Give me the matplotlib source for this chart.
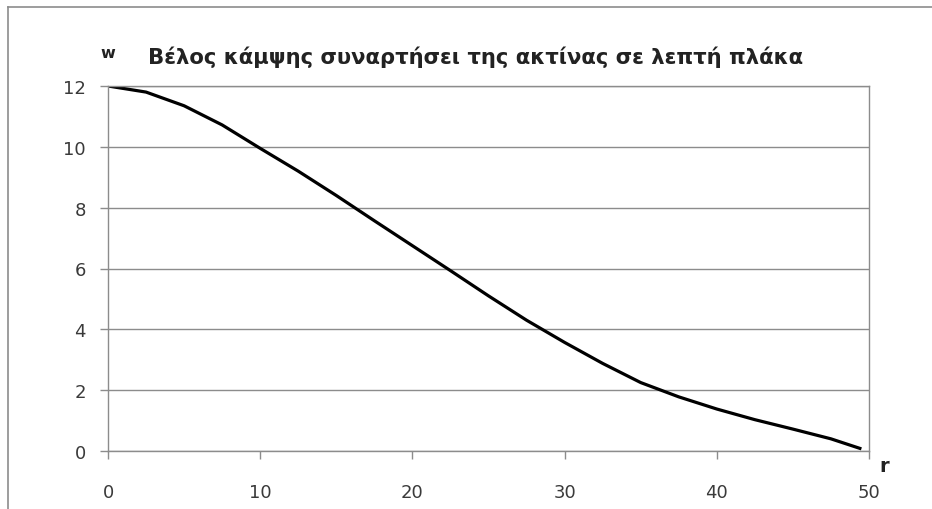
import matplotlib.pyplot as plt
from matplotlib.lines import Line2D

# plate deflection w against radius r
r = [0, 2.5, 5, 7.5, 10, 12.5, 15, 17.5, 20, 22.5, 25, 27.5, 30, 32.5, 35, 37.5, 40, 42.5, 45, 47.5, 49.5]
w = [12.0, 11.8, 11.35, 10.72, 9.95, 9.2, 8.4, 7.57, 6.75, 5.93, 5.1, 4.3, 3.57, 2.88, 2.25, 1.78, 1.38, 1.03, 0.72, 0.4, 0.07]

xticks = [0, 10, 20, 30, 40, 50]
yticks = [0, 2, 4, 6, 8, 10, 12]

title = "Βέλος κάμψης συναρτήσει της ακτίνας σε λεπτή πλάκα"

grey = "#8c8c8c"
plt.rcParams['font.family'] = ['DejaVu Sans']

fig = plt.figure(figsize=(9.32, 5.10), dpi=100)
ax = fig.add_axes([108 / 932, 1 - 452 / 510, (869 - 108) / 932, (452 - 87) / 510])

ax.plot(r, w, color="black", lw=2.3, solid_capstyle="butt", solid_joinstyle="round")

ax.set_xlim(0, 50)
ax.set_ylim(0, 12)
ax.set_xticks(xticks)
ax.set_yticks(yticks)
ax.yaxis.grid(True, color=grey, lw=1.0)
ax.set_axisbelow(True)
for s in ax.spines.values():
    s.set_color(grey)
    s.set_linewidth(1.0)
ax.tick_params(axis="both", colors=grey, length=6, width=1.0, labelsize=13, labelcolor="#3a3a3a")
ax.tick_params(axis="x", pad=17)
ax.tick_params(axis="y", pad=10)

# axis names placed at the ends of the axes
fig.text(100 / 932, 1 - 54 / 510, "w", fontsize=11.5, fontweight="bold", color="#222222", va="center")
fig.text(879 / 932, 1 - 467 / 510, "r", fontsize=14, fontweight="bold", color="#222222", va="center")
fig.text(148 / 932, 1 - 57 / 510, title, fontsize=15.2, fontweight="bold", color="#222222", va="center")

# outer chart frame (top and left edges)
fig.add_artist(Line2D([8 / 932, 1], [1 - 8 / 510, 1 - 8 / 510], transform=fig.transFigure, color=grey, lw=1.2))
fig.add_artist(Line2D([8 / 932, 8 / 932], [0, 1 - 8 / 510], transform=fig.transFigure, color=grey, lw=1.2))

fig.savefig("out.png", dpi=100)
